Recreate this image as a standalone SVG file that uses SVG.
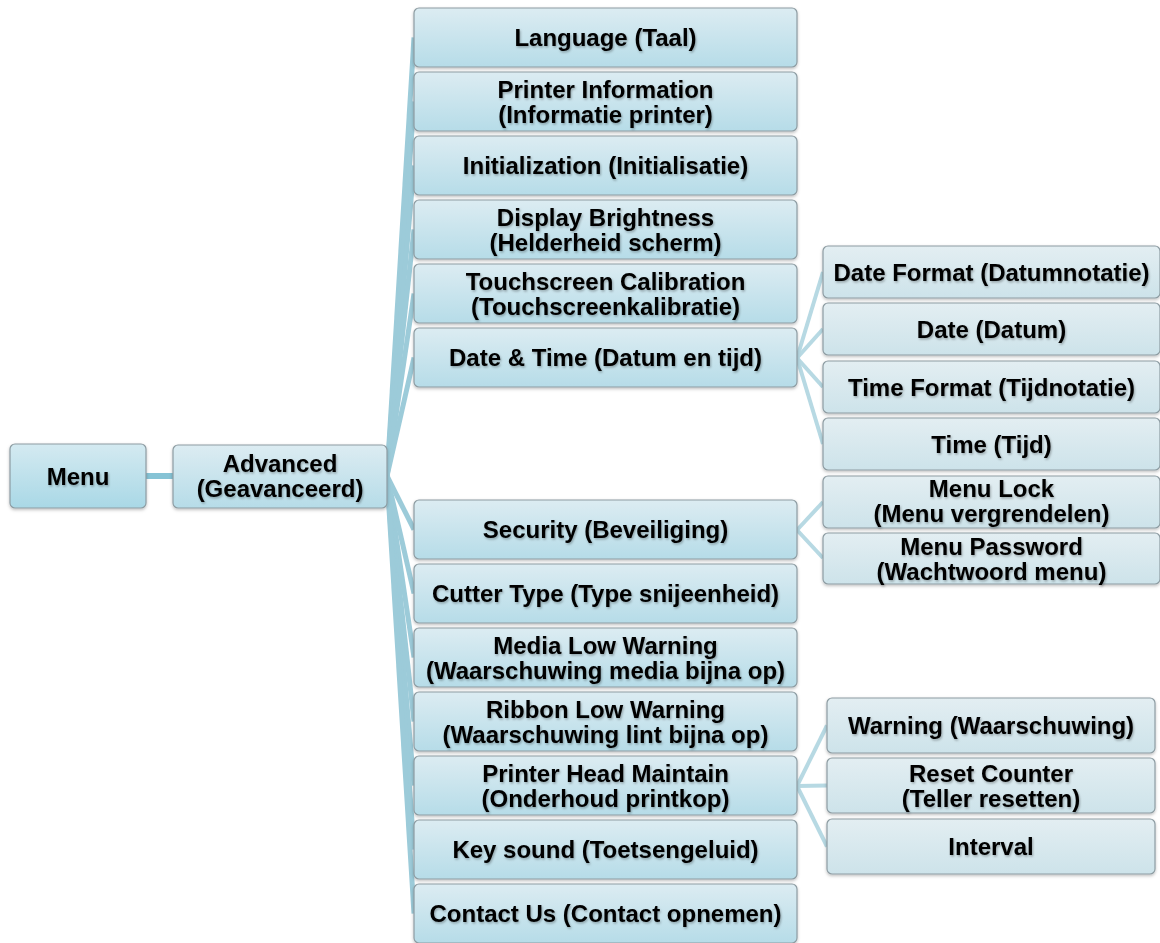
<svg xmlns="http://www.w3.org/2000/svg" width="1160" height="943" viewBox="0 0 1160 943">
  <defs>
    <linearGradient id="gMain" x1="0" y1="0" x2="0" y2="1">
      <stop offset="0" stop-color="#dcecf2"/>
      <stop offset="1" stop-color="#b6dce8"/>
    </linearGradient>
    <linearGradient id="gRoot" x1="0" y1="0" x2="0" y2="1">
      <stop offset="0" stop-color="#d4eaf1"/>
      <stop offset="1" stop-color="#a9d8e6"/>
    </linearGradient>
    <linearGradient id="gSub" x1="0" y1="0" x2="0" y2="1">
      <stop offset="0" stop-color="#e3eef2"/>
      <stop offset="1" stop-color="#cde3ea"/>
    </linearGradient>
    <filter id="boxShadow" x="-10%" y="-20%" width="120%" height="150%">
      <feDropShadow dx="0" dy="1.5" stdDeviation="1.5" flood-color="#000" flood-opacity="0.25"/>
    </filter>
    <filter id="txtShadow" x="-5%" y="-30%" width="110%" height="160%">
      <feDropShadow dx="1" dy="1.5" stdDeviation="1" flood-color="#000" flood-opacity="0.3"/>
    </filter>
  </defs>
  <style>
    .box { stroke: #8d9ca2; stroke-width: 1.2; filter: url(#boxShadow); }
    .main { fill: url(#gMain); }
    .root { fill: url(#gRoot); }
    .sub { fill: url(#gSub); }
    .lbl { font-family: "Liberation Sans", Arial, sans-serif; font-weight: bold; font-size: 24px; fill: #000; text-anchor: middle; filter: url(#txtShadow); }
    .fan { stroke: #9ccbd9; stroke-width: 5; stroke-linecap: butt; fill: none; }
    .child { stroke: #b7d9e3; stroke-width: 4; fill: none; }
    .rootLink { stroke: #86c3d5; stroke-width: 6; fill: none; }
  </style>

  <!-- connectors -->
  <g id="connectors">
    <line class="rootLink" x1="146" y1="476" x2="173" y2="476"/>
    <g id="fan-advanced">
      <line class="fan" x1="387" y1="476" x2="414" y2="37.5"/>
      <line class="fan" x1="387" y1="476" x2="414" y2="101.5"/>
      <line class="fan" x1="387" y1="476" x2="414" y2="165.5"/>
      <line class="fan" x1="387" y1="476" x2="414" y2="229.5"/>
      <line class="fan" x1="387" y1="476" x2="414" y2="293.5"/>
      <line class="fan" x1="387" y1="476" x2="414" y2="357.5"/>
      <line class="fan" x1="387" y1="476" x2="414" y2="529.5"/>
      <line class="fan" x1="387" y1="476" x2="414" y2="593.5"/>
      <line class="fan" x1="387" y1="476" x2="414" y2="657.5"/>
      <line class="fan" x1="387" y1="476" x2="414" y2="721.5"/>
      <line class="fan" x1="387" y1="476" x2="414" y2="785.5"/>
      <line class="fan" x1="387" y1="476" x2="414" y2="849.5"/>
      <line class="fan" x1="387" y1="476" x2="414" y2="913.5"/>
    </g>
    <g id="fan-datetime">
      <line class="child" x1="797" y1="358" x2="823" y2="272"/>
      <line class="child" x1="797" y1="358" x2="823" y2="329"/>
      <line class="child" x1="797" y1="358" x2="823" y2="387"/>
      <line class="child" x1="797" y1="358" x2="823" y2="444"/>
    </g>
    <g id="fan-security">
      <line class="child" x1="797" y1="530" x2="823" y2="502"/>
      <line class="child" x1="797" y1="530" x2="823" y2="558"/>
    </g>
    <g id="fan-printhead">
      <line class="child" x1="797" y1="786" x2="827" y2="725.5"/>
      <line class="child" x1="797" y1="786" x2="827" y2="785.5"/>
      <line class="child" x1="797" y1="786" x2="827" y2="846.5"/>
    </g>
  </g>

  <!-- level 0 / 1 -->
  <g id="node-menu">
    <rect class="box root" x="10" y="444" width="136" height="64" rx="5"/>
    <text class="lbl" x="78" y="484.5">Menu</text>
  </g>
  <g id="node-advanced">
    <rect class="box main" x="173" y="445" width="214" height="63" rx="5"/>
    <text class="lbl" x="280" y="472">Advanced</text>
    <text class="lbl" x="280" y="497">(Geavanceerd)</text>
  </g>

  <!-- level 2 -->
  <g id="node-language">
    <rect class="box main" x="414" y="8" width="383" height="59" rx="5"/>
    <text class="lbl" x="605.5" y="46">Language (Taal)</text>
  </g>
  <g id="node-printer-info">
    <rect class="box main" x="414" y="72" width="383" height="59" rx="5"/>
    <text class="lbl" x="605.5" y="97.5">Printer Information</text>
    <text class="lbl" x="605.5" y="122.5">(Informatie printer)</text>
  </g>
  <g id="node-init">
    <rect class="box main" x="414" y="136" width="383" height="59" rx="5"/>
    <text class="lbl" x="605.5" y="174">Initialization (Initialisatie)</text>
  </g>
  <g id="node-brightness">
    <rect class="box main" x="414" y="200" width="383" height="59" rx="5"/>
    <text class="lbl" x="605.5" y="225.5">Display Brightness</text>
    <text class="lbl" x="605.5" y="250.5">(Helderheid scherm)</text>
  </g>
  <g id="node-touch">
    <rect class="box main" x="414" y="264" width="383" height="59" rx="5"/>
    <text class="lbl" x="605.5" y="289.5">Touchscreen Calibration</text>
    <text class="lbl" x="605.5" y="314.5">(Touchscreenkalibratie)</text>
  </g>
  <g id="node-datetime">
    <rect class="box main" x="414" y="328" width="383" height="59" rx="5"/>
    <text class="lbl" x="605.5" y="366">Date &amp; Time (Datum en tijd)</text>
  </g>
  <g id="node-security">
    <rect class="box main" x="414" y="500" width="383" height="59" rx="5"/>
    <text class="lbl" x="605.5" y="538">Security (Beveiliging)</text>
  </g>
  <g id="node-cutter">
    <rect class="box main" x="414" y="564" width="383" height="59" rx="5"/>
    <text class="lbl" x="605.5" y="602">Cutter Type (Type snijeenheid)</text>
  </g>
  <g id="node-media-low">
    <rect class="box main" x="414" y="628" width="383" height="59" rx="5"/>
    <text class="lbl" x="605.5" y="653.5">Media Low Warning</text>
    <text class="lbl" x="605.5" y="678.5">(Waarschuwing media bijna op)</text>
  </g>
  <g id="node-ribbon-low">
    <rect class="box main" x="414" y="692" width="383" height="59" rx="5"/>
    <text class="lbl" x="605.5" y="717.5">Ribbon Low Warning</text>
    <text class="lbl" x="605.5" y="742.5">(Waarschuwing lint bijna op)</text>
  </g>
  <g id="node-printhead">
    <rect class="box main" x="414" y="756" width="383" height="59" rx="5"/>
    <text class="lbl" x="605.5" y="781.5">Printer Head Maintain</text>
    <text class="lbl" x="605.5" y="806.5">(Onderhoud printkop)</text>
  </g>
  <g id="node-keysound">
    <rect class="box main" x="414" y="820" width="383" height="59" rx="5"/>
    <text class="lbl" x="605.5" y="858">Key sound (Toetsengeluid)</text>
  </g>
  <g id="node-contact">
    <rect class="box main" x="414" y="884" width="383" height="59" rx="5"/>
    <text class="lbl" x="605.5" y="922">Contact Us (Contact opnemen)</text>
  </g>

  <!-- level 3: date & time -->
  <g id="node-date-format">
    <rect class="box sub" x="823" y="246" width="337" height="52" rx="5"/>
    <text class="lbl" x="991.5" y="280.5">Date Format (Datumnotatie)</text>
  </g>
  <g id="node-date">
    <rect class="box sub" x="823" y="303" width="337" height="52" rx="5"/>
    <text class="lbl" x="991.5" y="337.5">Date (Datum)</text>
  </g>
  <g id="node-time-format">
    <rect class="box sub" x="823" y="361" width="337" height="52" rx="5"/>
    <text class="lbl" x="991.5" y="395.5">Time Format (Tijdnotatie)</text>
  </g>
  <g id="node-time">
    <rect class="box sub" x="823" y="418" width="337" height="52" rx="5"/>
    <text class="lbl" x="991.5" y="452.5">Time (Tijd)</text>
  </g>

  <!-- level 3: security -->
  <g id="node-menu-lock">
    <rect class="box sub" x="823" y="476" width="337" height="52" rx="5"/>
    <text class="lbl" x="991.5" y="497">Menu Lock</text>
    <text class="lbl" x="991.5" y="522">(Menu vergrendelen)</text>
  </g>
  <g id="node-menu-password">
    <rect class="box sub" x="823" y="533" width="337" height="51" rx="5"/>
    <text class="lbl" x="991.5" y="554.5">Menu Password</text>
    <text class="lbl" x="991.5" y="579.5">(Wachtwoord menu)</text>
  </g>

  <!-- level 3: printer head -->
  <g id="node-warning">
    <rect class="box sub" x="827" y="698" width="328" height="55" rx="5"/>
    <text class="lbl" x="991" y="734">Warning (Waarschuwing)</text>
  </g>
  <g id="node-reset-counter">
    <rect class="box sub" x="827" y="758" width="328" height="55" rx="5"/>
    <text class="lbl" x="991" y="781.5">Reset Counter</text>
    <text class="lbl" x="991" y="806.5">(Teller resetten)</text>
  </g>
  <g id="node-interval">
    <rect class="box sub" x="827" y="819" width="328" height="55" rx="5"/>
    <text class="lbl" x="991" y="854.5">Interval</text>
  </g>
</svg>
